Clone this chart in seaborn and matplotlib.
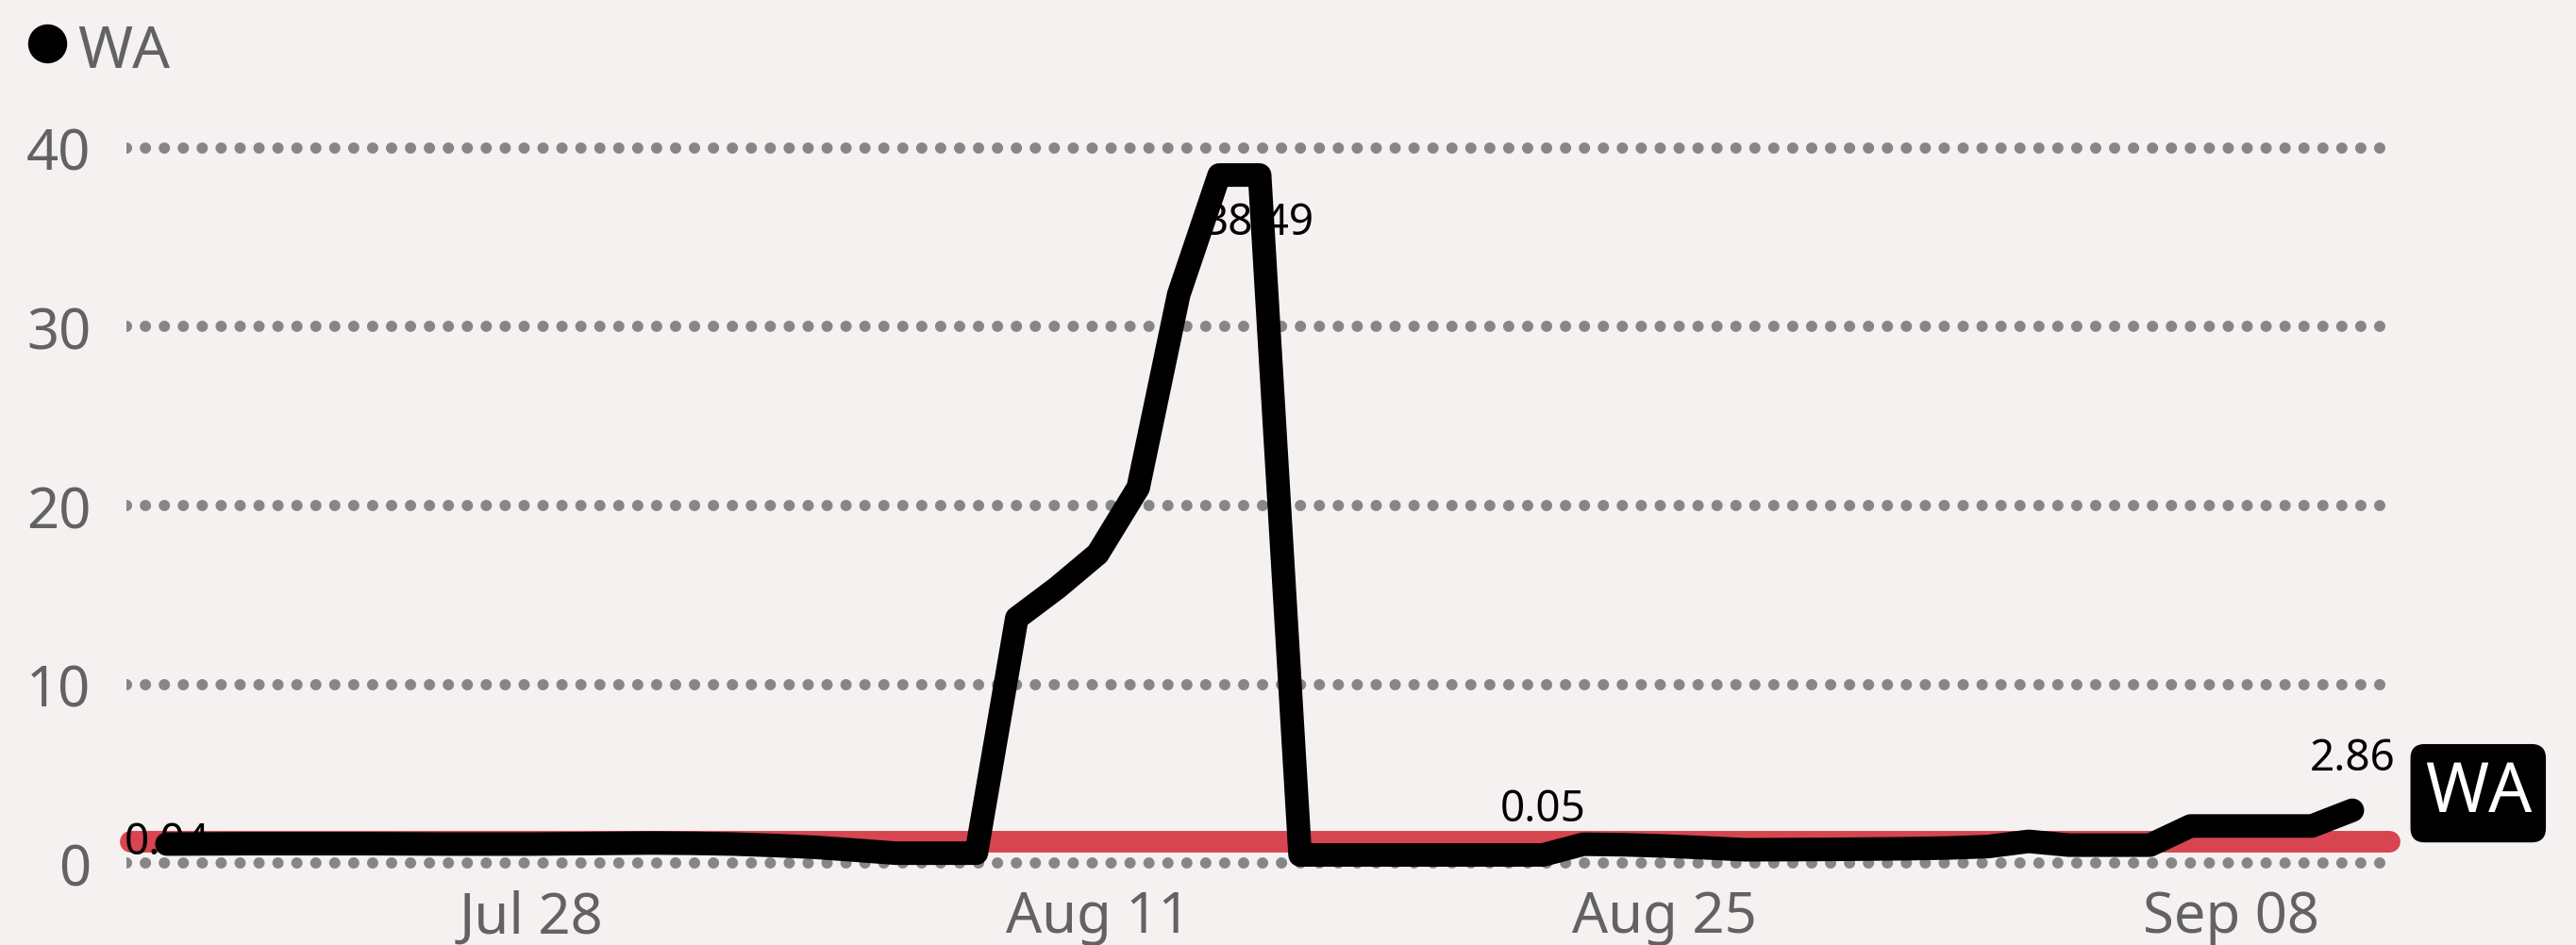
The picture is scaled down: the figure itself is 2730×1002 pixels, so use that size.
import matplotlib
matplotlib.use("Agg")
import matplotlib.pyplot as plt
import matplotlib.dates as mdates
from matplotlib.lines import Line2D
import seaborn as sns
import pandas as pd

# ---------------- data ----------------
START_DATE = "2024-07-19"
values = [1.06, 1.07, 1.08, 1.08, 1.08, 1.08, 1.07, 1.06, 1.06, 1.06,
          1.08, 1.10, 1.12, 1.10, 1.06, 0.98, 0.88, 0.72, 0.55, 0.55,
          0.55, 13.7, 15.4, 17.3, 21.0, 31.8, 38.49, 38.49, 0.45, 0.45,
          0.45, 0.45, 0.45, 0.45, 0.45, 1.05, 1.02, 0.95, 0.85, 0.74,
          0.75, 0.76, 0.78, 0.80, 0.84, 0.92, 1.21, 1.00, 1.00, 1.00,
          2.07, 2.07, 2.07, 2.07, 2.95]
series_name = "WA"
reference_value = 1.2
y_ticks = [0, 10, 20, 30, 40]
x_tick_dates = ["2024-07-28", "2024-08-11", "2024-08-25", "2024-09-08"]
label_index = [0, 27, 34, 54]
label_text = ["0.04", "38.49", "0.05", "2.86"]
label_offset_pt = [1.5, -36, 35, 40]

dates = pd.date_range(START_DATE, periods=len(values), freq="D")
df = pd.DataFrame({"date": dates, "value": values})

# ---------------- style ----------------
BG = "#F6F1F1"
GRID = "#868686"
TXT = "#626262"
RED = "#D64550"

sns.set_theme(style="white")
plt.rcParams["font.family"] = ["Noto Sans", "DejaVu Sans"]

fig = plt.figure(figsize=(27.3, 10.03), dpi=100, facecolor=BG)
ax = fig.add_axes([0.04908, 0.0678, 0.87824, 0.7936])
ax.set_facecolor(BG)

# reference line
ax.axhline(reference_value, xmin=0.0017, xmax=1.0, color=RED, linewidth=16.5,
           solid_capstyle="round", clip_on=False, zorder=2)

# main series
sns.lineplot(data=df, x="date", y="value", color="black", linewidth=18,
             ax=ax, zorder=3, legend=False)
for ln in ax.lines[1:]:
    ln.set_solid_capstyle("round")
    ln.set_solid_joinstyle("round")

# axes
ax.set_ylim(-1, 41)
ax.set_xlim(dates[0] - pd.Timedelta(days=1.0), dates[0] + pd.Timedelta(days=54.9))
ax.set_yticks(y_ticks)
ax.set_xticks(pd.to_datetime(x_tick_dates))
ax.xaxis.set_major_formatter(mdates.DateFormatter("%b %d"))
ax.set_xlabel("")
ax.set_ylabel("")
for s in ax.spines.values():
    s.set_visible(False)
ax.tick_params(axis="both", length=0, labelsize=43, labelcolor=TXT)
ax.tick_params(axis="y", pad=27)
ax.tick_params(axis="x", pad=6)
ax.set_axisbelow(True)
ax.yaxis.grid(True, color=GRID, linewidth=8.6, linestyle=(0, (0.01, 1.67)),
              dash_capstyle="round")
ax.xaxis.grid(False)

# data labels
for idx, txt, off in zip(label_index, label_text, label_offset_pt):
    ax.annotate(txt, (dates[idx], values[idx]), xytext=(0, off),
                textcoords="offset points", ha="center", va="center",
                fontsize=33, color="black", zorder=5)

# series end label
ax.annotate(series_name, (dates[-1], values[-1]), xytext=(96, 13),
            textcoords="offset points", ha="center", va="center",
            fontsize=52, color="white", zorder=6, annotation_clip=False,
            bbox=dict(boxstyle="round,pad=0.2,rounding_size=0.2",
                      fc="black", ec="black"))

# legend
fig.add_artist(Line2D([50 / 2730], [1 - 47 / 1003], marker="o", markersize=28.8,
                      color="black", linestyle="", transform=fig.transFigure))
fig.text(82 / 2730, 1 - 72 / 1003, series_name, fontsize=45, color=TXT,
         va="baseline", ha="left")

fig.savefig("out.png", dpi=100, facecolor=BG)
